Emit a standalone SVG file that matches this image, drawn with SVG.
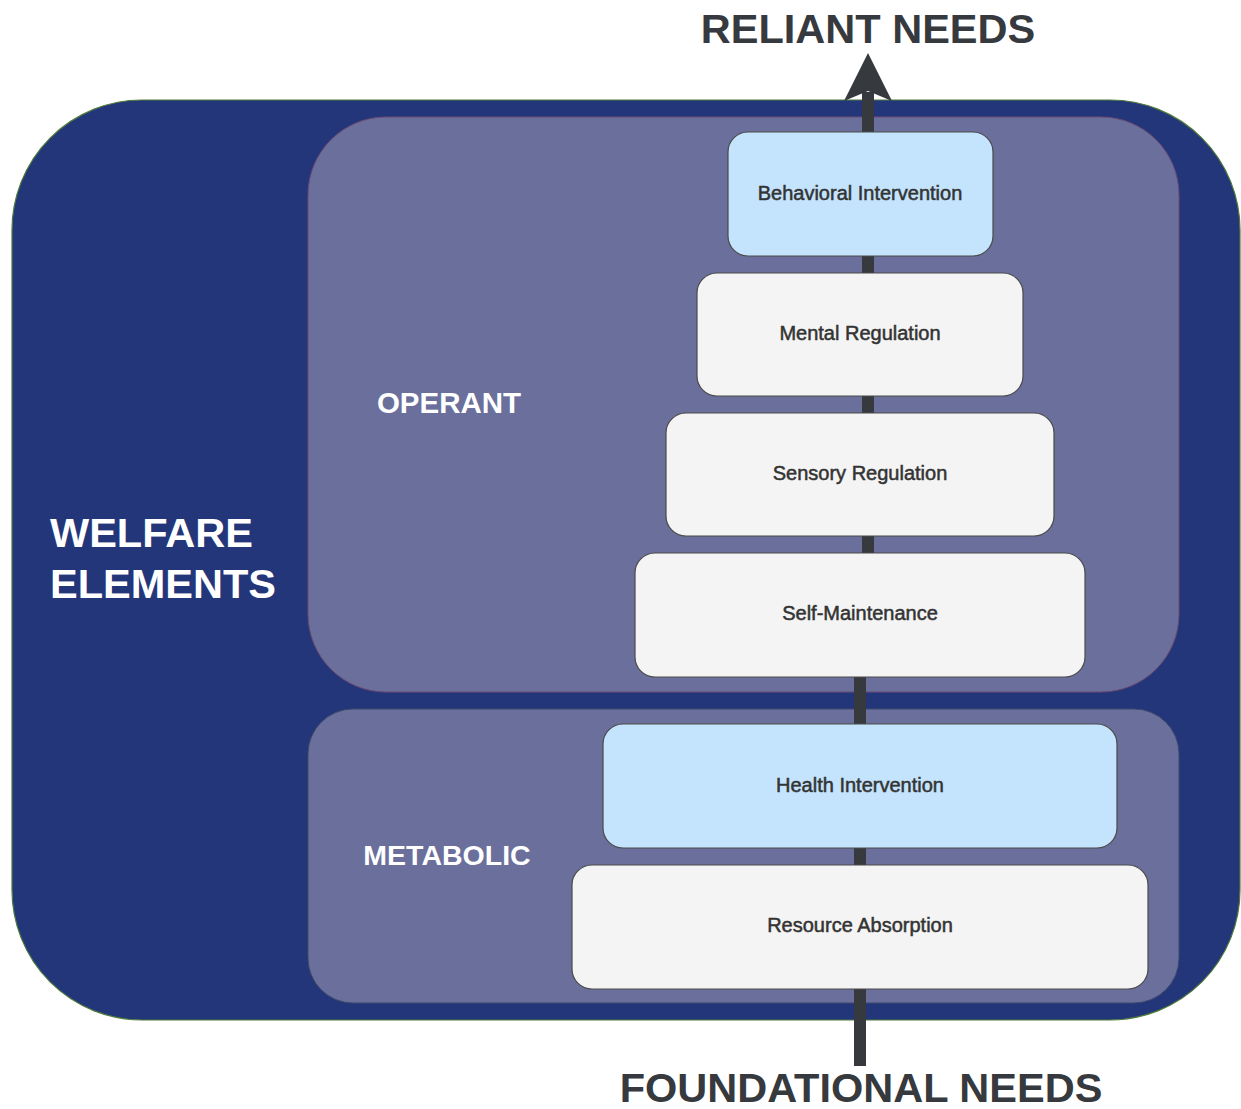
<svg xmlns="http://www.w3.org/2000/svg" width="1241" height="1109" viewBox="0 0 1241 1109">
  <style>
    .outer { fill: #23367a; stroke: #4f7a3a; stroke-width: 1.2; }
    .grp { fill: #6a6f9b; stroke: #6e4a72; stroke-width: 1; }
    .grp2 { fill: #6a6f9b; stroke: #3f4a6a; stroke-width: 1; }
    .box { stroke: #4a4a4a; stroke-width: 1.2; }
    .light { fill: #f4f4f4; }
    .blue { fill: #c4e4fd; }
    .lbl { font-family: "Liberation Sans", Arial, sans-serif; font-size: 20px; fill: #333333; stroke: #333333; stroke-width: 0.5; text-anchor: middle; }
    .glbl { font-family: "Liberation Sans", Arial, sans-serif; font-weight: bold; fill: #ffffff; }
    .ext { font-family: "Liberation Sans", Arial, sans-serif; font-weight: bold; font-size: 41.5px; fill: #36393d; text-anchor: middle; }
    .line { stroke: #36393d; stroke-width: 12; fill: none; }
  </style>

  <g id="welfare-elements">
    <rect class="outer" x="12" y="100" width="1228" height="920" rx="130" ry="130"/>
    <text class="glbl" font-size="41.5" x="50" y="547">WELFARE</text>
    <text class="glbl" font-size="41.5" x="50" y="598">ELEMENTS</text>
  </g>

  <g id="operant">
    <rect class="grp" x="308" y="117" width="871" height="575" rx="78" ry="78"/>
    <text class="glbl" font-size="29.5" x="449" y="413" text-anchor="middle">OPERANT</text>
  </g>

  <g id="metabolic">
    <rect class="grp2" x="308" y="709" width="871" height="294" rx="45" ry="45"/>
    <text class="glbl" font-size="28.5" x="447" y="865" text-anchor="middle">METABOLIC</text>
  </g>

  <g id="connectors">
    <line class="line" x1="860" y1="1066" x2="860" y2="610"/>
    <line class="line" x1="868" y1="610" x2="868" y2="92"/>
    <polygon points="868,53 892,101 868,91 844,101" fill="#36393d"/>
  </g>

  <g id="behavioral-intervention">
    <rect class="box blue" x="728" y="132" width="265" height="124" rx="20" ry="20"/>
    <text class="lbl" x="860" y="200">Behavioral Intervention</text>
  </g>
  <g id="mental-regulation">
    <rect class="box light" x="697" y="273" width="326" height="123" rx="20" ry="20"/>
    <text class="lbl" x="860" y="340">Mental Regulation</text>
  </g>
  <g id="sensory-regulation">
    <rect class="box light" x="666" y="413" width="388" height="123" rx="20" ry="20"/>
    <text class="lbl" x="860" y="480">Sensory Regulation</text>
  </g>
  <g id="self-maintenance">
    <rect class="box light" x="635" y="553" width="450" height="124" rx="20" ry="20"/>
    <text class="lbl" x="860" y="620">Self-Maintenance</text>
  </g>
  <g id="health-intervention">
    <rect class="box blue" x="603" y="724" width="514" height="124" rx="20" ry="20"/>
    <text class="lbl" x="860" y="792">Health Intervention</text>
  </g>
  <g id="resource-absorption">
    <rect class="box light" x="572" y="865" width="576" height="124" rx="20" ry="20"/>
    <text class="lbl" x="860" y="932">Resource Absorption</text>
  </g>

  <g id="reliant-needs">
    <text class="ext" x="868" y="43">RELIANT NEEDS</text>
  </g>
  <g id="foundational-needs">
    <text class="ext" x="861" y="1102">FOUNDATIONAL NEEDS</text>
  </g>
</svg>
